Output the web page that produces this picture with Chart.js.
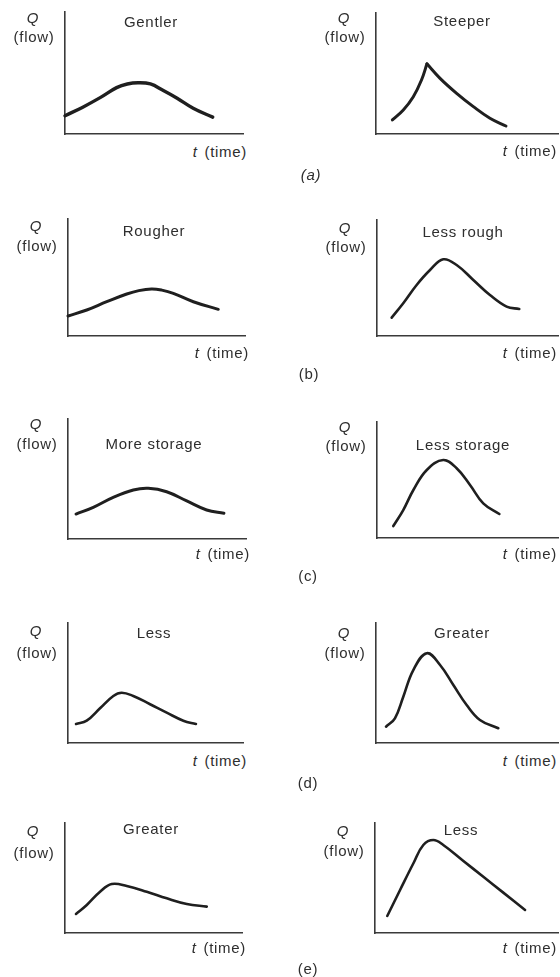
<!DOCTYPE html>
<html>
<head>
<meta charset="utf-8">
<title>Hydrograph shapes</title>
<script src="https://cdn.jsdelivr.net/npm/chart.js@4.4.1/dist/chart.umd.min.js"></script>
<style>
  html, body { margin: 0; padding: 0; background: #fff; }
  body {
    position: relative; width: 560px; height: 977px; overflow: hidden;
    font-family: "Liberation Sans", Arial, Helvetica, sans-serif; color: #2e2e2e;
  }
  .panel { position: absolute; }
  .lbl {
    position: absolute; font-size: 15px; line-height: 1; letter-spacing: 0.7px;
    white-space: nowrap; transform: translate(-50%, -50%);
  }
  .lbl.right { transform: translate(-100%, -50%); word-spacing: 2px; }
  .it { font-style: italic; }
</style>
</head>
<body>
<script>
// ── Curve data: t and Q in percent of each small axis box ──
const gentlerT = [0, 10, 20, 29, 35, 41, 48, 55, 63, 72, 83];
const gentlerQ = [15, 22, 30, 38, 41, 42, 41, 35.8, 29.3, 21.1, 13.8];

const steeperRiseT = [9, 15, 20.5, 25, 28];
const steeperRiseQ = [11.6, 19.8, 30.8, 44.6, 58];
const steeperFallT = [28, 35.2, 44.3, 53.5, 62.6, 71.4];
const steeperFallQ = [58, 46, 33.6, 22.6, 13, 6.6];

const rougherT = [0, 10.6, 21.9, 33.2, 40, 47.2, 53, 59.5, 70.8, 84.9];
const rougherQ = [17.1, 22.2, 29.3, 35.9, 38.8, 40.2, 39.2, 36.5, 29.3, 22.8];

const lessRoughT = [8.1, 14.5, 21.9, 29.3, 36.6, 44, 53.2, 62.4, 71.6, 78.6];
const lessRoughQ = [15.8, 28.2, 44, 56.9, 66.1, 61.2, 48.3, 35.3, 25.3, 23.3];

const moreStorageT = [4.5, 14.2, 25.4, 36.7, 45.1, 55.4, 66.7, 77.9, 87.6];
const moreStorageQ = [20.8, 26.4, 34.7, 40.8, 42.2, 39.4, 31.7, 24.2, 21.4];

const lessStorageT = [9, 14.5, 20.1, 27.5, 36.6, 44, 51.4, 58.7, 67.6];
const lessStorageQ = [10.3, 24.1, 41.4, 58.6, 67.2, 60.1, 45.7, 29.9, 20.7];

const lessDT = [4.6, 10.7, 18.3, 25.9, 30.7, 37.3, 46.9, 56.4, 65.9, 73.1];
const lessDQ = [15.8, 18.6, 28.9, 39.2, 41.9, 39.2, 32.3, 25.3, 18.6, 15.8];

const greaterDT = [5.5, 10.4, 15, 20.5, 27.9, 35.2, 42.5, 49.8, 57.1, 67.2];
const greaterDQ = [13.6, 20.6, 38.6, 60.8, 74.8, 65, 48.3, 31.7, 19.2, 12.3];

const greaterET = [6.2, 12.3, 19.8, 26.4, 34.9, 46.2, 57.5, 68.8, 80.1];
const greaterEQ = [17.3, 25.5, 37.5, 44.5, 42.7, 37.5, 31.5, 26.4, 24];

const lessET = [6.7, 13.7, 21, 26.4, 31.9, 37.3, 48.3, 59.2, 70.1, 82];
const lessEQ = [15.5, 39.1, 63.4, 80, 84.5, 80, 65.5, 51.1, 36.7, 21];

const rowLabels = ['(a)', '(b)', '(c)', '(d)', '(e)'];

const INK  = '#1f1f1f';
const AXIS = '#3a3a3a';
const PAD  = 8;

// box = [left, top, right, bottom] of the axis frame
const panels = [
  { title: 'Gentler',      box: [65, 12, 243, 134],   titleY: 21,  qY: 17,  flowY: 36,  timeY: 151, lw: 3.4, series: [[gentlerT, gentlerQ]] },
  { title: 'Steeper',      box: [376, 13, 558, 134],  titleY: 20,  qY: 17,  flowY: 36,  timeY: 150, lw: 3,   series: [[steeperRiseT, steeperRiseQ], [steeperFallT, steeperFallQ]] },
  { title: 'Rougher',      box: [68, 219, 245, 336],  titleY: 230, qY: 225, flowY: 245, timeY: 352, lw: 3,   series: [[rougherT, rougherQ]] },
  { title: 'Less rough',   box: [377, 220, 558, 336], titleY: 231, qY: 227, flowY: 246, timeY: 352, lw: 2.6, series: [[lessRoughT, lessRoughQ]] },
  { title: 'More storage', box: [68, 419, 246, 539],  titleY: 443, qY: 423, flowY: 443, timeY: 553, lw: 3,   series: [[moreStorageT, moreStorageQ]] },
  { title: 'Less storage', box: [377, 422, 558, 538], titleY: 444, qY: 426, flowY: 445, timeY: 553, lw: 2.6, series: [[lessStorageT, lessStorageQ]] },
  { title: 'Less',         box: [68, 623, 243, 743],  titleY: 632, qY: 630, flowY: 652, timeY: 760, lw: 2.6, series: [[lessDT, lessDQ]] },
  { title: 'Greater',      box: [376, 623, 558, 743], titleY: 632, qY: 632, flowY: 652, timeY: 760, lw: 2.6, series: [[greaterDT, greaterDQ]] },
  { title: 'Greater',      box: [65, 823, 242, 933],  titleY: 828, qY: 830, flowY: 852, timeY: 947, lw: 2.6, series: [[greaterET, greaterEQ]] },
  { title: 'Less',         box: [375, 823, 558, 933], titleY: 829, qY: 830, flowY: 850, timeY: 947, lw: 2.6, series: [[lessET, lessEQ]] },
];

const rowLabelPos = [[311, 174, true], [309, 373], [308, 575], [308, 782], [308, 968]];

function addLabel(html, x, y, cls) {
  const el = document.createElement('div');
  el.className = 'lbl' + (cls ? ' ' + cls : '');
  el.innerHTML = html;
  el.style.left = x + 'px';
  el.style.top = y + 'px';
  document.body.appendChild(el);
}

function axisOptions() {
  return {
    type: 'linear', min: 0, max: 100, display: true,
    grid: { display: false, drawTicks: false },
    ticks: { display: false },
    border: { display: true, color: AXIS, width: 1.6 },
  };
}

function drawPanel(p) {
  const [x0, y0, x1, y1] = p.box;
  const wrap = document.createElement('div');
  wrap.className = 'panel';
  wrap.style.left = (x0 - PAD) + 'px';
  wrap.style.top = (y0 - PAD) + 'px';
  const cv = document.createElement('canvas');
  cv.width = x1 - x0 + 2 * PAD;
  cv.height = y1 - y0 + 2 * PAD;
  wrap.appendChild(cv);
  document.body.appendChild(wrap);

  new Chart(cv, {
    type: 'line',
    data: {
      datasets: p.series.map(([ts, qs]) => ({
        data: ts.map((t, i) => ({ x: t, y: qs[i] })),
        borderColor: INK,
        borderWidth: p.lw,
        borderCapStyle: 'round',
        borderJoinStyle: 'round',
        pointRadius: 0,
        fill: false,
        clip: false,
        tension: 0.4,
      })),
    },
    options: {
      responsive: false,
      animation: false,
      layout: { padding: PAD },
      plugins: { legend: { display: false }, tooltip: { enabled: false } },
      scales: { x: axisOptions(), y: axisOptions() },
    },
  });

  // texts around the frame
  addLabel(p.title, x0 + 86, p.titleY);
  addLabel('<span class="it">Q</span>', x0 - 32, p.qY);
  addLabel('(flow)', x0 - 31, p.flowY);
  addLabel('<span class="it">t</span> (time)', Math.min(x1 + 4, 557), p.timeY, 'right');
}

panels.forEach(drawPanel);
rowLabels.forEach((txt, i) => {
  const [x, y, italic] = rowLabelPos[i];
  addLabel(italic ? '<span class="it">' + txt + '</span>' : txt, x, y);
});
</script>
</body>
</html>
